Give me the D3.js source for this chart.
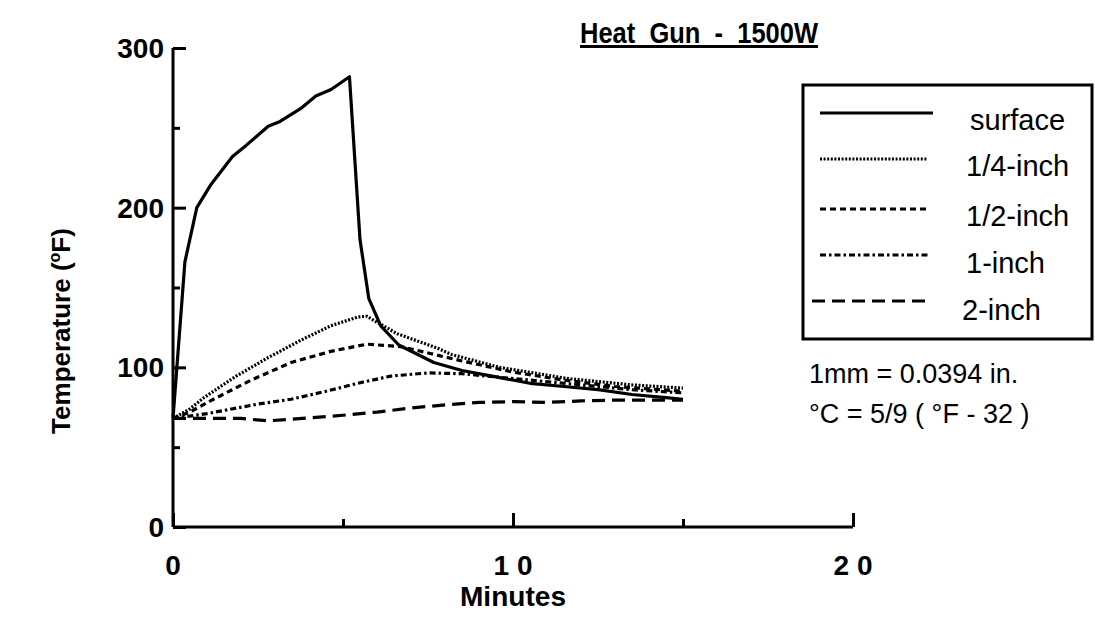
<!DOCTYPE html>
<html>
<head>
<meta charset="utf-8">
<script src="https://cdn.jsdelivr.net/npm/d3@7/dist/d3.min.js"></script>
<style>
  html, body { margin: 0; padding: 0; background: #fff; }
  svg { display: block; font-family: "Liberation Sans", Arial, Helvetica, sans-serif; }
</style>
</head>
<body>
<svg id="chart" width="1095" height="629"></svg>
<script>
// ---- data ----
const seriesNames = ["surface", "1/4-inch", "1/2-inch", "1-inch", "2-inch"];

const surfaceTime = [0, 0.35, 0.7, 1.1, 1.75, 2.15, 2.8, 3.15, 3.75, 4.2, 4.65, 5.19, 5.5, 5.76, 6.11, 6.64, 7.67, 8.5, 9.5, 10.5, 11.5, 12.5, 13.5, 14.5, 15];
const surfaceTemp = [68, 166, 200, 214, 232, 239, 251, 254, 262, 270, 274, 282, 180, 143, 126, 114, 103, 98, 94, 90, 88, 86, 83, 81, 80];

const quarterTime = [0, 0.5, 0.91, 1.82, 2.79, 3.76, 4.64, 5.43, 5.7, 6.02, 6.6, 7.78, 8.2, 9.6, 11.6, 13.5, 15];
const quarterTemp = [68, 74, 81, 94, 106, 117, 126, 131.5, 132, 128, 121, 112, 108, 100, 93, 89, 87];

const halfTime = [0, 0.5, 1.1, 2.3, 3.47, 4.64, 5.7, 6.7, 7.5, 8.5, 10, 11.5, 13, 15];
const halfTemp = [68, 72, 79, 92, 103, 110, 114.5, 113, 109, 104, 97, 92, 88, 85];

const oneTime = [0, 1, 2.5, 3.47, 4.5, 5.43, 6.4, 7.5, 8.5, 9.5, 10.5, 12, 13.5, 15];
const oneTemp = [68, 71, 77, 80, 85, 90, 94.5, 96.5, 96, 94, 92, 89, 86, 84];

const twoTime = [0, 2, 2.8, 3.8, 5, 6, 7, 8, 9, 10, 11, 12, 13, 14, 15];
const twoTemp = [68, 68, 66.5, 68, 70, 72, 74.5, 76.5, 78, 78.5, 78, 79, 79.5, 79.5, 79.5];

const yTicksMajor = [0, 100, 200, 300];
const yTicksMinor = [50, 150, 250];
const xTicksMajor = [0, 10, 20];
const xTicksMinor = [5, 15];
const xTickLabels = ["0", "1 0", "2 0"];
const noteLines = ["1mm = 0.0394 in.", "°C = 5/9 ( °F - 32 )"];

// ---- chart ----
const svg = d3.select("#chart");
const x = d3.scaleLinear().domain([0, 20]).range([173, 853]);
const y = d3.scaleLinear().domain([0, 300]).range([527, 48]);

const series = [
  { name: seriesNames[0], t: surfaceTime, v: surfaceTemp, dash: null, w: 3.2 },
  { name: seriesNames[1], t: quarterTime, v: quarterTemp, dash: "2,1.6", w: 3.2 },
  { name: seriesNames[2], t: halfTime, v: halfTemp, dash: "6,4", w: 3.2 },
  { name: seriesNames[3], t: oneTime, v: oneTemp, dash: "6,3,2.5,3", w: 3.2 },
  { name: seriesNames[4], t: twoTime, v: twoTemp, dash: "13,7", w: 3.2 }
];

// axes (ticks inward)
const yAxis = d3.axisRight(y).tickValues(yTicksMajor).tickSize(13).tickFormat("");
const gy = svg.append("g").attr("transform", `translate(${x(0)},0)`).call(yAxis);
gy.select(".domain").attr("d", `M0,${y(300)}V${y(0)}`);
const yAxisMinor = d3.axisRight(y).tickValues(yTicksMinor).tickSize(7).tickFormat("");
const gy2 = svg.append("g").attr("transform", `translate(${x(0)},0)`).call(yAxisMinor);
gy2.select(".domain").remove();

const xAxis = d3.axisTop(x).tickValues(xTicksMajor).tickSize(14).tickFormat("");
const gx = svg.append("g").attr("transform", `translate(0,${y(0)})`).call(xAxis);
gx.select(".domain").attr("d", `M${x(0)},0H${x(20)}`);
const xAxisMinor = d3.axisTop(x).tickValues(xTicksMinor).tickSize(8).tickFormat("");
const gx2 = svg.append("g").attr("transform", `translate(0,${y(0)})`).call(xAxisMinor);
gx2.select(".domain").remove();
svg.selectAll(".domain").attr("stroke", "#000").attr("stroke-width", 3);
svg.selectAll(".tick line").attr("stroke", "#000").attr("stroke-width", 3);

// tick labels
svg.append("g").selectAll("text").data(yTicksMajor).join("text")
  .attr("x", 164).attr("y", d => y(d) + 10)
  .attr("text-anchor", "end").attr("font-weight", "bold").attr("font-size", 28)
  .text(d => d);
svg.append("g").selectAll("text").data(xTicksMajor).join("text")
  .attr("x", d => x(d)).attr("y", 575)
  .attr("text-anchor", "middle").attr("font-weight", "bold").attr("font-size", 28)
  .text((d, i) => xTickLabels[i]);

svg.append("text").attr("x", x(10)).attr("y", 606)
  .attr("text-anchor", "middle").attr("font-weight", "bold").attr("font-size", 27)
  .attr("textLength", 106).attr("lengthAdjust", "spacingAndGlyphs")
  .text("Minutes");

const ylab = svg.append("text").attr("transform", "translate(70,331) rotate(-90)")
  .attr("text-anchor", "middle").attr("font-weight", "bold").attr("font-size", 26);
ylab.append("tspan").text("Temperature (");
ylab.append("tspan").attr("font-size", 16).attr("dy", -10).text("o");
ylab.append("tspan").attr("dy", 10).text("F)");

// title
svg.append("text").attr("x", 580).attr("y", 43)
  .attr("font-weight", "bold").attr("font-size", 30)
  .attr("text-decoration", "underline").attr("xml:space", "preserve").style("white-space", "pre")
  .attr("textLength", 238).attr("lengthAdjust", "spacingAndGlyphs")
  .text("Heat  Gun  -  1500W");

// lines
const line = d3.line().x(d => x(d[0])).y(d => y(d[1]));
svg.append("g").selectAll("path").data(series).join("path")
  .attr("d", s => line(s.t.map((t, i) => [t, s.v[i]])))
  .attr("fill", "none").attr("stroke", "#000")
  .attr("stroke-width", s => s.w)
  .attr("stroke-dasharray", s => s.dash)
  .attr("stroke-linejoin", "round");

// legend
const lg = svg.append("g");
lg.append("rect").attr("x", 803).attr("y", 85).attr("width", 289).attr("height", 254)
  .attr("fill", "none").attr("stroke", "#000").attr("stroke-width", 3);
const legY = [113, 159, 209, 255, 301];
const legTextY = [130, 176, 226, 273, 320];
const legTextX = [970, 966, 966, 966, 962];
lg.selectAll("path").data(series).join("path")
  .attr("d", (s, i) => `M${i === 4 ? 812 : 820},${legY[i]}H${i === 0 ? 933 : 928}`)
  .attr("stroke", "#000").attr("stroke-width", s => s.w)
  .attr("stroke-dasharray", s => s.dash);
lg.selectAll("text").data(series).join("text")
  .attr("x", (s, i) => legTextX[i]).attr("y", (s, i) => legTextY[i])
  .attr("font-size", 29).text(s => s.name);

// notes
svg.append("g").selectAll("text").data(noteLines).join("text")
  .attr("x", 809).attr("y", (d, i) => 383 + i * 40)
  .attr("font-size", 27).text(d => d);
</script>
</body>
</html>
